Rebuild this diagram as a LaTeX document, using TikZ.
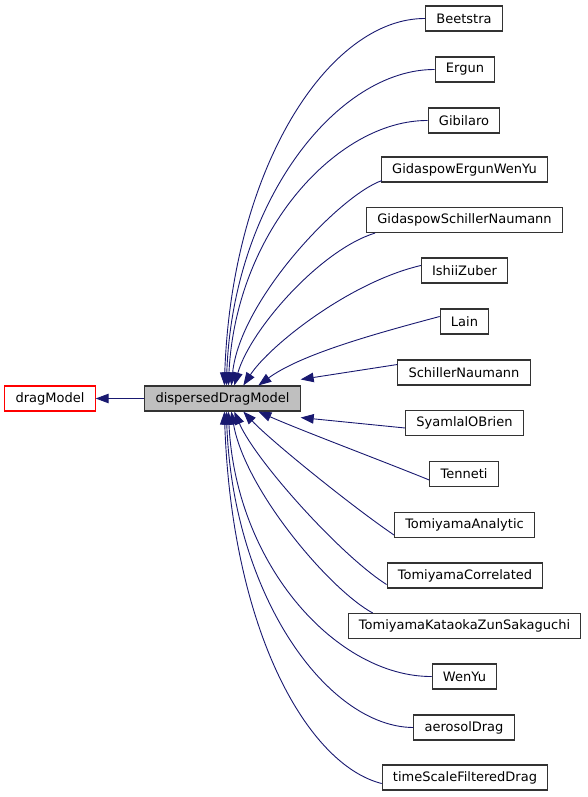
\documentclass[tikz,border=0pt]{standalone}
\usepackage{fontspec}
\setmainfont{DejaVu Sans}
\usetikzlibrary{arrows.meta}
\definecolor{edgeblue}{HTML}{191970}
\definecolor{boxgray}{HTML}{333333}
\definecolor{fillgray}{HTML}{BFBFBF}
\begin{document}
\begin{tikzpicture}
[x=1pt, y=-1pt,
 every node/.style={font=\fontsize{13}{16}\selectfont, draw=boxgray, line width=1.1pt,
   minimum height=25pt, inner xsep=10.7pt, inner ysep=0pt, fill=white},
 inherit/.style={draw=edgeblue, line width=0.9pt, -{Triangle[length=13pt,width=9.5pt]}}]
\useasboundingbox (0,0) rectangle (588,797);
\node (drag) at (50,398.5) [draw=red] {dragModel};
\node (ddm) at (222.5,398.5) [fill=fillgray] {dispersedDragModel};
\node (bee) at (464,18.5) {Beetstra};
\node (erg) at (465,69.5) {Ergun};
\node (gib) at (464,120.5) {Gibilaro};
\node (gewy) at (464.5,169.5) {GidaspowErgunWenYu};
\node (gsn) at (464.5,220) {GidaspowSchillerNaumann};
\node (ishii) at (464.5,270.5) {IshiiZuber};
\node (lain) at (464.5,321.5) {Lain};
\node (sn) at (464,372.5) {SchillerNaumann};
\node (sob) at (464.5,423) {SyamlalOBrien};
\node (ten) at (464,474) {Tenneti};
\node (ta) at (464.5,525) {TomiyamaAnalytic};
\node (tc) at (465,575.5) {TomiyamaCorrelated};
\node (tkzs) at (464.5,626) {TomiyamaKataokaZunSakaguchi};
\node (wy) at (464.5,676.5) {WenYu};
\node (aero) at (464,727.5) {aerosolDrag};
\node (tsfd) at (465,777.5) {timeScaleFilteredDrag};
% base class
\draw [inherit] (ddm.west) -- (drag.east);
% derived classes above
\draw [inherit] (bee.west) .. controls (330,18) and (232,165) .. ([xshift=80pt]ddm.north west);
\draw [inherit] (erg.west) .. controls (338,69) and (233,200) .. ([xshift=82pt]ddm.north west);
\draw [inherit] (gib.west) .. controls (338,120) and (236,230) .. ([xshift=84pt]ddm.north west);
\draw [inherit] ([xshift=1pt,yshift=2pt]gewy.south west) .. controls (340,195) and (240,300) .. ([xshift=87pt]ddm.north west);
\draw [inherit] ([xshift=9pt]gsn.south west) .. controls (320,250) and (250,330) .. ([xshift=90pt]ddm.north west);
\draw [inherit] ([yshift=5pt]ishii.west) .. controls (350,282) and (270,345) .. ([xshift=99pt]ddm.north west);
\draw [inherit] ([yshift=5pt]lain.west) .. controls (370,335) and (300,355) .. ([xshift=114pt]ddm.north west);
\draw [inherit] ([yshift=8pt]sn.west) -- ([yshift=6pt]ddm.north east);
% derived classes below
\draw [inherit] ([yshift=-5pt]sob.west) -- ([yshift=-6pt]ddm.south east);
\draw [inherit] ([yshift=-6pt]ten.west) .. controls (380,460) and (300,430) .. ([xshift=114pt]ddm.south west);
\draw [inherit] ([yshift=-10pt]ta.west) .. controls (350,505) and (270,440) .. ([xshift=99pt]ddm.south west);
\draw [inherit] ([yshift=-9pt]tc.west) .. controls (340,555) and (255,460) .. ([xshift=90pt]ddm.south west);
\draw [inherit] ([xshift=25pt]tkzs.north west) .. controls (330,590) and (245,490) .. ([xshift=87pt]ddm.south west);
\draw [inherit] (wy.west) .. controls (338,677) and (236,567) .. ([xshift=84pt]ddm.south west);
\draw [inherit] (aero.west) .. controls (328,727) and (233,597) .. ([xshift=82pt]ddm.south west);
\draw [inherit] ([yshift=-6pt]tsfd.west) .. controls (308,765) and (232,632) .. ([xshift=80pt]ddm.south west);
\end{tikzpicture}
\end{document}
